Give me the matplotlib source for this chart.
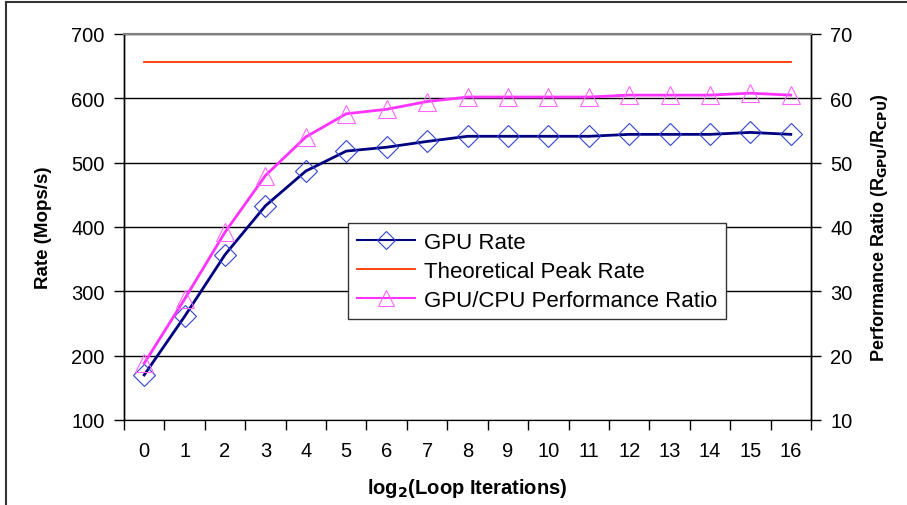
import matplotlib.pyplot as plt
from matplotlib.lines import Line2D
import numpy as np

plt.rcParams['font.family'] = ['Liberation Sans', 'DejaVu Sans']

iterations = list(range(17))
gpu_rate = [170, 261, 357, 433, 487, 518, 524, 533, 541, 541, 541, 541, 544, 544, 544, 547, 544]
peak_rate = [657] * 17
perf_ratio = [18.8, 28.8, 39.2, 48.0, 54.0, 57.6, 58.3, 59.5, 60.2, 60.2, 60.2, 60.2, 60.5, 60.5, 60.5, 60.8, 60.5]

fig = plt.figure(figsize=(9.07, 5.06), dpi=100)
ax = fig.add_axes([124/907, 85/506, 687/907, 386/506])
ax2 = ax.twinx()

# outer frame of the picture
fig.add_artist(Line2D([6/907, 6/907], [0, 1 - 3/506], color='#333333', lw=1.5, transform=fig.transFigure))
fig.add_artist(Line2D([6/907, 1], [1 - 3/506, 1 - 3/506], color='#333333', lw=1.5, transform=fig.transFigure))

ax.plot(iterations, peak_rate, color='#ff3300', lw=1.3, zorder=3)
ax.plot(iterations, gpu_rate, color='#000080', lw=2, zorder=4)
ax.plot(iterations, gpu_rate, ls='none', marker='D', ms=11, mfc='none', mec='#3344cc', mew=0.8, zorder=5)
ax2.plot(iterations, perf_ratio, color='#ff33ff', lw=2, zorder=4)
ax2.plot(iterations, perf_ratio, ls='none', marker='^', ms=13, mfc='none', mec='#ff66ff', mew=0.8, zorder=5)

ax.set_xlim(-0.5, 16.5)
ax.set_ylim(100, 700)
ax2.set_ylim(10, 70)
ax.set_yticks(range(100, 701, 100))
ax2.set_yticks(range(10, 71, 10))
ax.set_xticks(iterations)
ax.set_xticks(np.arange(-0.5, 16.6, 1), minor=True)
ax.tick_params(axis='x', which='major', length=0, pad=15, labelsize=14.5)
ax.tick_params(axis='x', which='minor', length=7, direction='out', width=1)
ax.tick_params(axis='y', length=7, width=1, labelsize=14.5, pad=7)
ax2.tick_params(axis='y', length=7, width=1, labelsize=14.5, pad=7)
ax.yaxis.grid(True, color='black', lw=1)
ax.set_axisbelow(True)

for a in (ax, ax2):
    a.spines['top'].set_color('#808080')
    a.spines['top'].set_linewidth(1.5)
    a.spines['left'].set_linewidth(1)
    a.spines['right'].set_linewidth(1)

ax.set_ylabel('Rate (Mops/s)', fontsize=13.5, fontweight='bold', labelpad=14)
ax2.set_ylabel('Performance Ratio (R$_{\\mathbf{GPU}}$/R$_{\\mathbf{CPU}}$)', fontsize=13, fontweight='bold', labelpad=12)
ax.set_xlabel('log$_{\\mathbf{2}}$(Loop Iterations)', fontsize=14.5, fontweight='bold', labelpad=12)

handles = [
    Line2D([], [], color='#000080', lw=1.5, marker='D', ms=9, mfc='none', mec='#3344cc', mew=0.8),
    Line2D([], [], color='#ff3300', lw=1.3),
    Line2D([], [], color='#ff33ff', lw=1.5, marker='^', ms=11, mfc='none', mec='#ff66ff', mew=0.8),
]
labels = ['GPU Rate', 'Theoretical Peak Rate', 'GPU/CPU Performance Ratio']
leg = ax2.legend(handles, labels, loc='upper left', bbox_to_anchor=(0.326, 0.51), fontsize=16,
                 frameon=True, fancybox=False, edgecolor='#333333', framealpha=1,
                 handlelength=2.6, borderpad=0.4, labelspacing=0.35, handletextpad=0.4, borderaxespad=0)
leg.get_frame().set_linewidth(1)
leg.set_zorder(10)

plt.savefig('out.png', dpi=100)
